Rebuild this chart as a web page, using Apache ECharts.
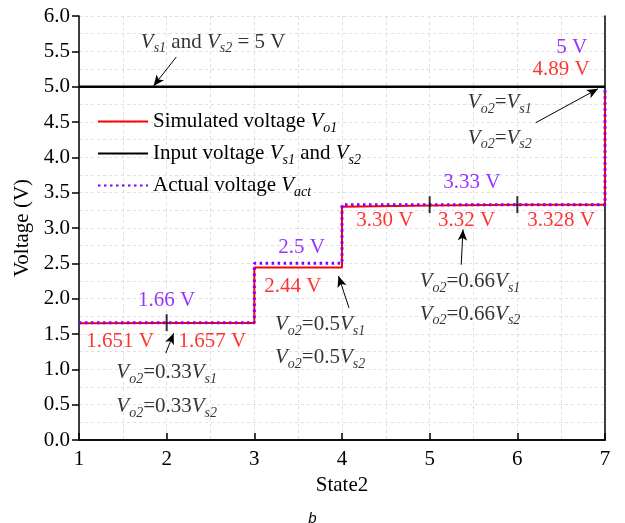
<!DOCTYPE html>
<html>
<head>
<meta charset="utf-8">
<script src="https://cdn.jsdelivr.net/npm/echarts@6/dist/echarts.min.js"></script>
<style>
html, body { margin: 0; padding: 0; background: #fff; }
#main { width: 625px; height: 523px; }
</style>
</head>
<body>
<div id="main"></div>
<script>
// step curves (x = state, y = volts)
var simX = [1, 2, 3, 3, 4, 4, 5, 6, 7, 7];
var simY = [1.651, 1.657, 1.657, 2.44, 2.44, 3.30, 3.32, 3.328, 3.328, 4.89];
var actX = [1, 3, 3, 4, 4, 7, 7];
var actY = [1.66, 1.66, 2.5, 2.5, 3.33, 3.33, 5];
var inX = [1, 7];
var inY = [5, 5];
// short vertical markers on the steps
var markX = [2, 5, 6];
var markY = [1.66, 3.33, 3.33];

var xTicks = [1, 2, 3, 4, 5, 6, 7];
var yMin = 0, yMax = 6, yStep = 0.5;

// text notes [x, y, text, colour]
var notes = [
	[2.53, 5.63, '{i|V}{s|s1} and {i|V}{s|s2} = 5 V', '#000'],
	[6.62, 5.55, '5 V', '#7f00ff'],
	[6.50, 5.25, '4.89 V', '#ff0000'],
	[5.80, 4.77, '{i|V}{s|o2}={i|V}{s|s1}', '#000'],
	[5.80, 4.27, '{i|V}{s|o2}={i|V}{s|s2}', '#000'],
	[5.48, 3.64, '3.33 V', '#7f00ff'],
	[4.49, 3.10, '3.30 V', '#ff0000'],
	[5.42, 3.10, '3.32 V', '#ff0000'],
	[6.50, 3.10, '3.328 V', '#ff0000'],
	[5.46, 2.24, '{i|V}{s|o2}=0.66{i|V}{s|s1}', '#000'],
	[5.46, 1.78, '{i|V}{s|o2}=0.66{i|V}{s|s2}', '#000'],
	[3.54, 2.72, '2.5 V', '#7f00ff'],
	[3.44, 2.17, '2.44 V', '#ff0000'],
	[3.75, 1.63, '{i|V}{s|o2}=0.5{i|V}{s|s1}', '#000'],
	[3.75, 1.17, '{i|V}{s|o2}=0.5{i|V}{s|s2}', '#000'],
	[2.00, 1.98, '1.66 V', '#7f00ff'],
	[1.47, 1.39, '1.651 V', '#ff0000'],
	[2.52, 1.39, '1.657 V', '#ff0000'],
	[2.00, 0.95, '{i|V}{s|o2}=0.33{i|V}{s|s1}', '#000'],
	[2.00, 0.47, '{i|V}{s|o2}=0.33{i|V}{s|s2}', '#000']
];

// arrows [x1, y1, x2, y2] tail -> head
var arrows = [
	[2.11, 5.42, 1.85, 5.01],
	[6.21, 4.49, 6.92, 4.97],
	[5.36, 2.48, 5.38, 2.98],
	[4.08, 1.87, 3.96, 2.32],
	[1.99, 1.23, 2.08, 1.51]
];

var serif = 'Liberation Serif';
var fs = 21;
var rich = {
	i: { fontStyle: 'italic', fontSize: fs, fontFamily: serif },
	s: { fontStyle: 'italic', fontSize: 14, fontFamily: serif, padding: [13, 0, 0, 0] }
};
var gridLine = { show: true, lineStyle: { color: '#e0e0e0', type: [3, 3], width: 1 } };
var frameLine = { show: true, lineStyle: { color: '#000', width: 1.5 } };

function zip(a, b) {
	var out = [];
	for (var k = 0; k < a.length; k++) out.push([a[k], b[k]]);
	return out;
}

var legendText = {
	'sim': 'Simulated voltage {i|V}{s|o1}',
	'inp': 'Input voltage {i|V}{s|s1} and {i|V}{s|s2}',
	'act': 'Actual voltage {i|V}{s|act}'
};

var c = echarts.init(document.getElementById('main'));
var option = {
	animation: false,
	title: {
		text: 'b',
		left: 'center',
		top: 506,
		textStyle: { fontFamily: 'Liberation Sans', fontStyle: 'italic', fontWeight: 'normal', fontSize: 15, color: '#000' }
	},
	grid: { left: 79, right: 20, top: 16, bottom: 83 },
	legend: {
		orient: 'vertical',
		left: 92,
		top: 106,
		itemWidth: 50,
		itemHeight: 14,
		itemGap: 8,
		data: ['sim', 'inp', 'act'],
		itemStyle: { opacity: 0 },
		formatter: function (n) { return legendText[n]; },
		textStyle: { fontFamily: serif, fontSize: fs, color: '#000', rich: rich }
	},
	xAxis: [{
		type: 'value',
		min: xTicks[0],
		max: xTicks[xTicks.length - 1],
		interval: 1,
		name: 'State2',
		nameLocation: 'middle',
		nameGap: 31,
		nameTextStyle: { fontFamily: serif, fontSize: fs, color: '#000' },
		axisLine: frameLine,
		axisTick: { inside: true, length: 7, lineStyle: { color: '#000', width: 1.5 } },
		axisLabel: { fontFamily: serif, fontSize: fs, color: '#000', margin: 9 },
		splitLine: gridLine,
		minorTick: { show: false, splitNumber: 2 },
		minorSplitLine: gridLine
	}, {
		type: 'value', position: 'top',
		min: xTicks[0], max: xTicks[xTicks.length - 1], interval: 1,
		axisLine: frameLine, axisTick: { show: false }, axisLabel: { show: false }, splitLine: { show: false }
	}],
	yAxis: [{
		type: 'value',
		min: yMin,
		max: yMax,
		interval: yStep,
		name: 'Voltage (V)',
		nameLocation: 'middle',
		nameGap: 45,
		nameTextStyle: { fontFamily: serif, fontSize: fs, color: '#000' },
		axisLine: frameLine,
		axisTick: { show: true, length: 7, lineStyle: { color: '#000', width: 1.5 } },
		axisLabel: { fontFamily: serif, fontSize: fs, color: '#000', margin: 9,
			formatter: function (v) { return v.toFixed(1); } },
		splitLine: gridLine,
		minorTick: { show: false, splitNumber: 2 },
		minorSplitLine: gridLine
	}, {
		type: 'value', position: 'right',
		min: yMin, max: yMax, interval: yStep,
		axisLine: frameLine, axisTick: { show: false }, axisLabel: { show: false }, splitLine: { show: false }
	}],
	series: [
		{
			name: 'sim', type: 'line', symbol: 'none', z: 3,
			data: zip(simX, simY),
			itemStyle: { color: '#ff0000' },
			lineStyle: { color: '#ff0000', width: 2 }
		},
		{
			name: 'inp', type: 'line', symbol: 'none', z: 3,
			data: zip(inX, inY),
			itemStyle: { color: '#000' },
			lineStyle: { color: '#000', width: 2.5 }
		},
		{
			name: 'act', type: 'line', symbol: 'none', z: 4,
			data: zip(actX, actY),
			itemStyle: { color: '#7f00ff' },
			lineStyle: { color: '#7f00ff', width: 3, type: [2.5, 3.5] }
		},
		{
			name: 'marks', type: 'scatter', symbol: 'rect', symbolSize: [2, 17], z: 5, silent: true,
			itemStyle: { color: '#000' },
			data: zip(markX, markY)
		},
		{
			name: 'notes', type: 'scatter', symbolSize: 0, z: 6, silent: true,
			data: notes.map(function (n) {
				return { value: [n[0], n[1]], label: { color: n[3] }, text: n[2] };
			}),
			label: {
				show: true, position: 'inside',
				fontFamily: serif, fontSize: fs, rich: rich,
				formatter: function (p) { return p.data.text; }
			}
		},
		{
			name: 'arrows', type: 'line', data: [], silent: true,
			markLine: {
				silent: true, symbol: ['none', 'arrow'], symbolSize: [7, 11],
				label: { show: false },
				lineStyle: { color: '#000', width: 1, type: 'solid' },
				data: arrows.map(function (a) {
					return [{ coord: [a[0], a[1]] }, { coord: [a[2], a[3]] }];
				})
			}
		}
	]
};
c.setOption(option);
</script>
</body>
</html>
